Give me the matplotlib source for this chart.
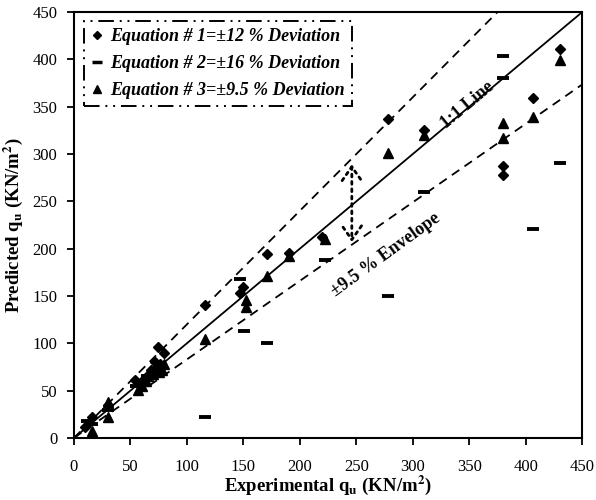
import matplotlib
matplotlib.use('Agg')
from matplotlib import pyplot as plt
from matplotlib.lines import Line2D

plt.rcParams['font.family'] = ['Liberation Serif', 'DejaVu Serif']
plt.rcParams['mathtext.fontset'] = 'stix'

# equation 1 (diamonds)
eq1X = [10, 16, 30, 54, 58, 62, 65, 68, 70, 72, 74, 76, 80, 116, 147, 150, 171, 190, 220, 278, 310, 380, 380, 406, 430]
eq1Y = [12, 22, 35, 61, 57, 62, 66, 72, 70, 80, 96, 78, 90, 140, 153, 160, 194, 195, 212, 337, 325, 287, 278, 359, 411]

# equation 2 (dashes)
eq2X = [12, 16, 30, 55, 65, 72, 78, 116, 147, 151, 171, 222, 278, 310, 380, 380, 406, 430]
eq2Y = [18, 15, 30, 55, 65, 70, 75, 22, 168, 113, 100, 188, 150, 260, 403, 380, 221, 290]

# equation 3 (triangles)
eq3X = [16, 30, 30, 57, 60, 64, 66, 70, 72, 75, 78, 80, 116, 152, 152, 171, 190, 222, 278, 310, 380, 380, 406, 430]
eq3Y = [7, 38, 22, 51, 55, 60, 65, 68, 75, 70, 72, 78, 105, 146, 138, 171, 192, 210, 301, 320, 333, 317, 339, 399]

lineX = [0, 450]
upperFactor = 1.2
lowerFactor = 0.83
ticks = list(range(0, 451, 50))

fig = plt.figure(figsize=(5.96, 5.0), dpi=100)
ax = fig.add_axes([0.124, 0.124, 0.853, 0.852])

ax.plot(lineX, lineX, 'k-', lw=1.3)
ax.plot(lineX, [x * upperFactor for x in lineX], 'k', lw=1.3, dashes=(5, 3.5))
ax.plot(lineX, [x * lowerFactor for x in lineX], 'k', lw=1.3, dashes=(5, 3.5))

ax.plot(eq1X, eq1Y, 'kD', ms=5.5, ls='none')
ax.plot(eq2X, eq2Y, 'k_', ms=8, mew=2.8, ls='none')
ax.plot(eq3X, eq3Y, 'k^', ms=7, ls='none')

ax.annotate('', xy=(246, 204), xytext=(246, 292),
            arrowprops=dict(arrowstyle='<->,head_length=0.5,head_width=0.35',
                            ls=':', lw=2, color='k', mutation_scale=20))

ax.text(348, 352, '1:1 Line', rotation=40, ha='center', va='center',
        fontsize=13, fontweight='bold')
ax.text(276, 193, '±9.5 % Envelope', rotation=36, ha='center', va='center',
        fontsize=13, fontweight='bold')

ax.set_xlim(0, 450)
ax.set_ylim(0, 450)
ax.set_xticks(ticks)
ax.set_yticks(ticks)
ax.tick_params(direction='out', length=5, width=1.3, labelsize=12)
ax.tick_params(axis='x', pad=10)
ax.tick_params(axis='y', pad=7)
for s in ax.spines.values():
    s.set_linewidth(1.5)

ax.set_xlabel(r'Experimental q$_{\mathbf{u}}$ (KN/m$^{\mathbf{2}}$)',
              fontsize=13.5, fontweight='bold', labelpad=-1)
ax.set_ylabel(r'Predicted q$_{\mathbf{u}}$ (KN/m$^{\mathbf{2}}$)',
              fontsize=13.5, fontweight='bold', labelpad=5)

handles = [
    Line2D([], [], color='k', marker='D', ms=4.5, ls='none'),
    Line2D([], [], color='k', marker='_', ms=7, mew=2.5, ls='none'),
    Line2D([], [], color='k', marker='^', ms=6, ls='none'),
]
labels = ['Equation # 1=±12 % Deviation',
          'Equation # 2=±16 % Deviation',
          'Equation # 3=±9.5 % Deviation']
leg = ax.legend(handles, labels, loc='upper left', bbox_to_anchor=(0.003, 1.0),
                prop=dict(family='Liberation Serif', weight='bold', style='italic', size=13),
                handlelength=0.6, handletextpad=0.4, borderpad=0.4,
                labelspacing=0.55, fancybox=False, framealpha=1)
frame = leg.get_frame()
frame.set_edgecolor('k')
frame.set_linewidth(1.4)
frame.set_linestyle((0, (8, 3, 1, 3, 1, 3)))

plt.savefig('out.png', dpi=100)
